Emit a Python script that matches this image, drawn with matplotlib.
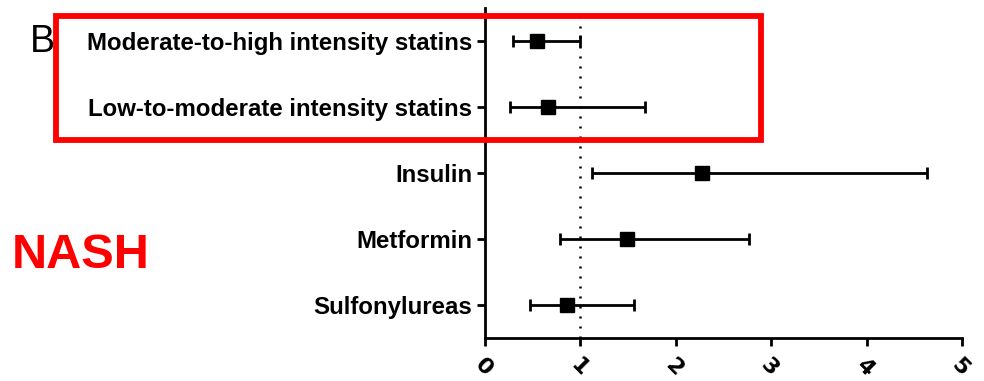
import matplotlib
matplotlib.use("Agg")
import matplotlib.pyplot as plt
from matplotlib.patches import Rectangle

categories = ["Moderate-to-high intensity statins", "Low-to-moderate intensity statins",
              "Insulin", "Metformin", "Sulfonylureas"]
point = [0.55, 0.66, 2.27, 1.49, 0.86]
lower = [0.29, 0.26, 1.12, 0.79, 0.47]
upper = [1.00, 1.68, 4.63, 2.77, 1.56]
xticks = [0, 1, 2, 3, 4, 5]

fig = plt.figure(figsize=(9.84, 3.81), dpi=100)
ax = fig.add_axes([485/984, 1-338/381, (962-485)/984, (338-8)/381])

n = len(categories)
ypos = list(range(n-1, -1, -1))
xerr = [[p - l for p, l in zip(point, lower)], [u - p for p, u in zip(point, upper)]]
ax.errorbar(point, ypos, xerr=xerr, fmt='s', color='black', ms=9.5, elinewidth=2,
            capsize=4.5, capthick=2, zorder=3)
ax.axvline(1, color='black', lw=1.8, linestyle=(0, (0.8, 3.2)), zorder=2)

ax.set_xlim(0, 5)
ax.set_ylim(-0.5, n - 0.5)
ax.set_yticks(ypos)
ax.set_yticklabels(categories, fontsize=17.3, fontweight='bold', family='Liberation Sans')
ax.set_xticks(xticks)
ax.set_xticklabels([str(t) for t in xticks], rotation=-45, ha='left', va='top',
                   rotation_mode='anchor', fontsize=16, fontweight='bold', family='DejaVu Sans')
for s in ['top', 'right']:
    ax.spines[s].set_visible(False)
for s in ['left', 'bottom']:
    ax.spines[s].set_linewidth(2)
ax.tick_params(axis='both', width=2, length=6, direction='out')
ax.tick_params(axis='y', pad=3)
ax.tick_params(axis='x', pad=6)

fig.text(30/984, 1-42/381, "B", fontsize=27, family='Liberation Sans', va='center', ha='left')
fig.text(12/984, 1-255/381, "NASH", fontsize=35, fontweight='bold', color='#ff0000',
         family='Liberation Sans', va='center', ha='left')
fig.patches.append(Rectangle((56/984, 1-140/381), (761-56)/984, (140-16)/381,
                             transform=fig.transFigure, fill=False, edgecolor='#ff0000',
                             lw=4.2, zorder=10))

fig.savefig("out.png", dpi=100)
